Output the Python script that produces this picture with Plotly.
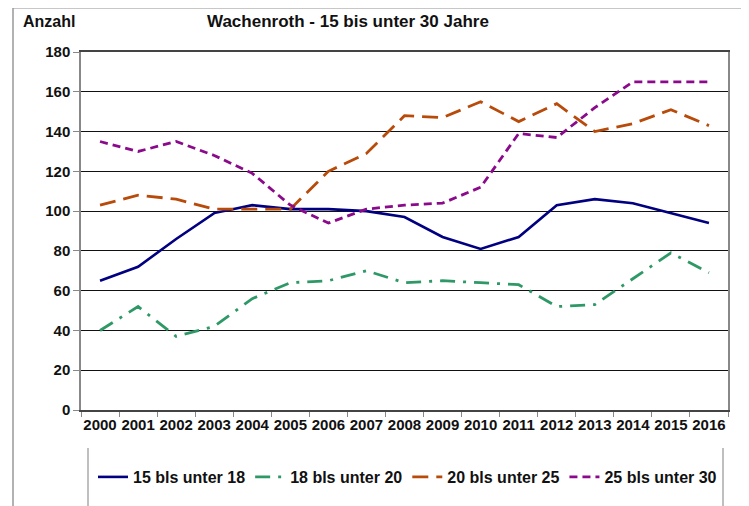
import plotly.graph_objects as go

years = [str(y) for y in range(2000, 2017)]
s15_18 = [65, 72, 86, 99, 103, 101, 101, 100, 97, 87, 81, 87, 103, 106, 104, 99, 94]
s18_20 = [40, 52, 37, 42, 56, 64, 65, 70, 64, 65, 64, 63, 52, 53, 66, 79, 69]
s20_25 = [103, 108, 106, 101, 101, 101, 120, 129, 148, 147, 155, 145, 154, 140, 144, 151, 143]
s25_30 = [135, 130, 135, 128, 119, 103, 94, 101, 103, 104, 112, 139, 137, 152, 165, 165, 165]
names = ["15 bls unter 18", "18 bls unter 20", "20 bls unter 25", "25 bls unter 30"]
y_ticks = list(range(0, 181, 20))

FONT = "Liberation Sans, Arial, sans-serif"

fig = go.Figure()
fig.add_trace(go.Scatter(x=years, y=s15_18, name=names[0], mode="lines",
                         line=dict(color="#000080", width=2.6)))
fig.add_trace(go.Scatter(x=years, y=s18_20, name=names[1], mode="lines",
                         line=dict(color="#2E9966", width=2.8, dash="15px,8px,3px,8px")))
fig.add_trace(go.Scatter(x=years, y=s20_25, name=names[2], mode="lines",
                         line=dict(color="#B84A0A", width=2.8, dash="16px,8px")))
fig.add_trace(go.Scatter(x=years, y=s25_30, name=names[3], mode="lines",
                         line=dict(color="#8B0A8B", width=2.8, dash="8px,5px")))

# page pixel layout (browser body has an 8px default margin)
OFF = 8
PW, PH = 749, 506
W, H = PW - OFF, PH - OFF
L, R, T, B = 81, 728, 52, 410
pw, ph = R - L, B - T

def fx(px):
    return (px - L) / pw

def fy(py):
    return (B - py) / ph

shapes = [
    # outer frame
    dict(type="line", xref="paper", yref="paper", x0=fx(13), x1=fx(743), y0=fy(7.5), y1=fy(7.5),
         line=dict(color="#222222", width=1.5)),
    dict(type="line", xref="paper", yref="paper", x0=fx(13), x1=fx(13), y0=fy(7.5), y1=fy(510),
         line=dict(color="#999999", width=1.5)),
    dict(type="line", xref="paper", yref="paper", x0=fx(743), x1=fx(743), y0=fy(7.5), y1=fy(510),
         line=dict(color="#999999", width=1.5)),
    # legend box sides
    dict(type="line", xref="paper", yref="paper", x0=fx(88), x1=fx(88), y0=fy(448), y1=fy(510),
         line=dict(color="#AAAAAA", width=1.5)),
    dict(type="line", xref="paper", yref="paper", x0=fx(723), x1=fx(723), y0=fy(448), y1=fy(510),
         line=dict(color="#AAAAAA", width=1.5)),
]

fig.update_layout(
    width=W, height=H, autosize=False,
    margin=dict(l=L - OFF, r=PW - R, t=T - OFF, b=PH - B, autoexpand=False),
    paper_bgcolor="white", plot_bgcolor="white",
    font=dict(family=FONT, color="#111111", size=15, weight="bold"),
    showlegend=True,
    legend=dict(orientation="h", x=fx(93), xanchor="left", y=fy(477), yanchor="middle",
                font=dict(family=FONT, size=16, color="#111111", weight="bold"),
                bgcolor="rgba(0,0,0,0)", itemwidth=30, traceorder="normal"),
    shapes=shapes,
    annotations=[
        dict(text="Anzahl", xref="paper", yref="paper", x=fx(21), y=fy(22), xanchor="left",
             yanchor="middle", showarrow=False, font=dict(family=FONT, size=16, weight="bold")),
        dict(text="Wachenroth - 15 bis unter 30 Jahre", xref="paper", yref="paper",
             x=fx(348), y=fy(22), xanchor="center", yanchor="middle", showarrow=False,
             font=dict(family=FONT, size=17, weight="bold")),
    ],
)

fig.update_xaxes(type="category", categoryorder="array", categoryarray=years,
                 range=[-0.5, len(years) - 0.5], tickangle=0, automargin=False,
                 showline=True, linecolor="#444444", linewidth=1.5, mirror=True,
                 ticks="outside", tickson="boundaries", ticklen=5, tickcolor="#888888",
                 showgrid=False, tickfont=dict(family=FONT, size=15, weight="bold"))
fig.update_yaxes(range=[0, 180], tickvals=y_ticks, showgrid=True, gridcolor="#111111",
                 gridwidth=1.2, showline=True, linecolor="#888888", linewidth=1.5, mirror=True,
                 ticks="outside", ticklen=6, tickcolor="#888888", zeroline=False, automargin=False,
                 tickfont=dict(family=FONT, size=15, weight="bold"))

fig.write_html("out.html")
